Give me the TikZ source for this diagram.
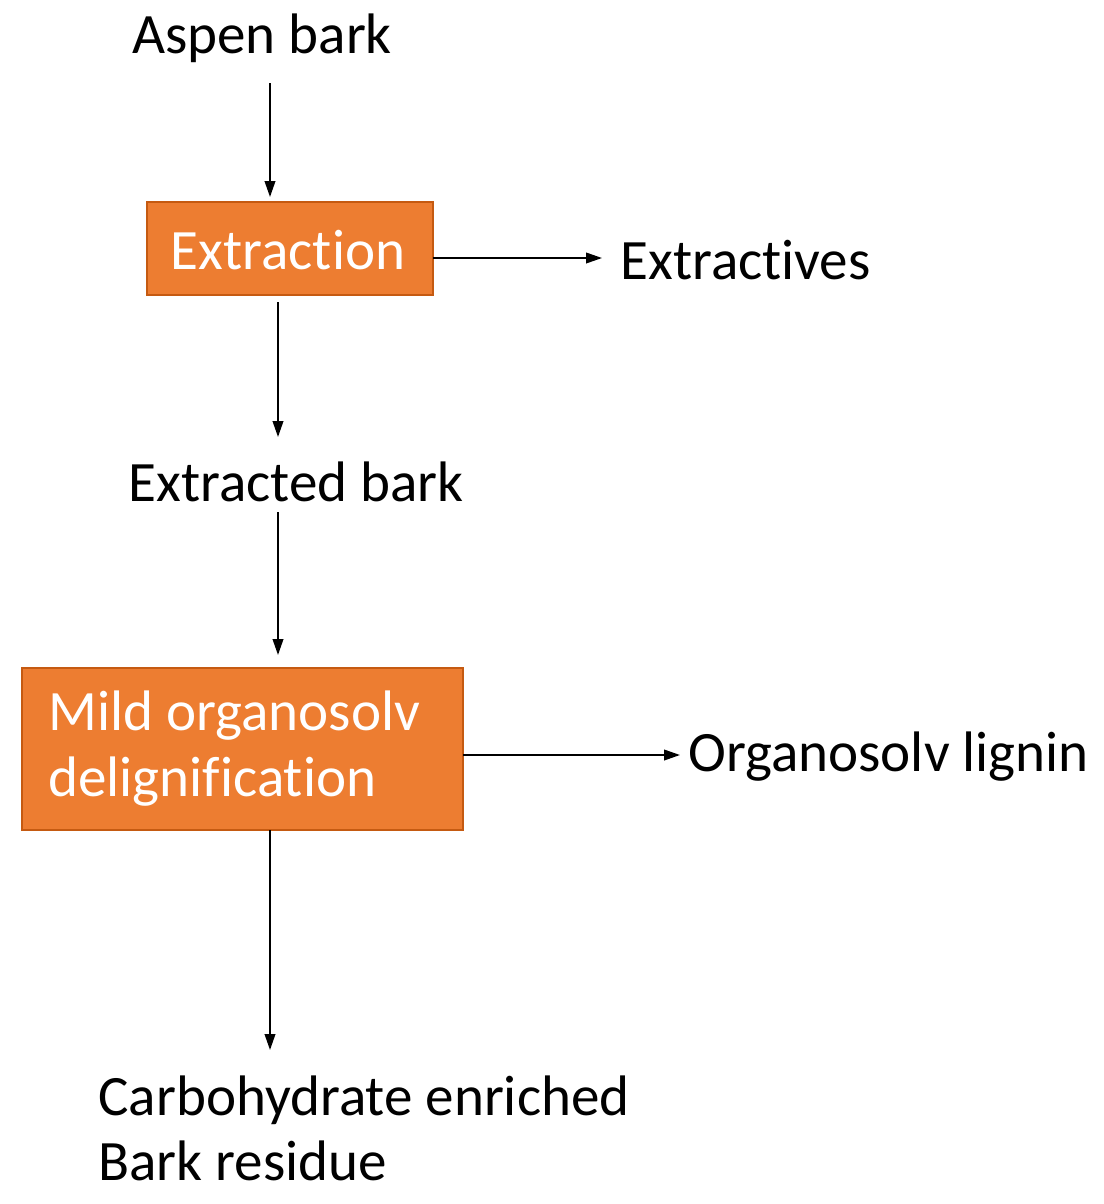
\documentclass[tikz,border=0pt]{standalone}
\usepackage{fontspec}
\setmainfont{Carlito}[RawFeature={-liga;-clig;-dlig}]
\usetikzlibrary{arrows.meta}
\definecolor{org}{HTML}{ED7D31}
\definecolor{orgd}{HTML}{C55A11}
\begin{document}
\begin{tikzpicture}[x=0.02cm,y=-0.02cm,
  txt/.style={font=\fontsize{32.5}{37.5}\selectfont,inner sep=0pt},
  box/.style={draw=orgd,line width=1pt,fill=org,text=white,font=\fontsize{32.5}{37.5}\selectfont},
  arr/.style={-{Triangle[length=9pt,width=6pt]},line width=1pt}]
\useasboundingbox (0,0) rectangle (1104,1204);
\node[txt] (aspen) at (262,38) {Aspen bark};
\node[box,minimum width=286*0.02cm,minimum height=93*0.02cm] (ext) at (290,248.5) {};
\node[txt,text=white] at (288,250) {Extraction};
\node[txt,anchor=west] (extv) at (620,260) {Extractives};
\node[txt] (exb) at (296,482) {Extracted bark};
\node[box,minimum width=441*0.02cm,minimum height=162*0.02cm] (mild) at (242.5,749) {};
\node[txt,text=white,anchor=west,align=left] at (48,749) {Mild organosolv\\delignification};
\node[txt,anchor=west] (lig) at (688,757) {Organosolv lignin};
\node[txt,anchor=north west,align=left] (carb) at (98,1075) {Carbohydrate enriched\\Bark residue};
\coordinate (a1) at (270,83); \coordinate (a2) at (270,197);
\draw[arr] (a1) -- (a2);
\coordinate (b1) at (433,258); \coordinate (b2) at (602,258);
\draw[arr] (b1) -- (b2);
\coordinate (c1) at (278,302); \coordinate (c2) at (278,437);
\draw[arr] (c1) -- (c2);
\coordinate (d1) at (278,512); \coordinate (d2) at (278,655);
\draw[arr] (d1) -- (d2);
\coordinate (e1) at (463,755); \coordinate (e2) at (680,755);
\draw[arr] (e1) -- (e2);
\coordinate (f1) at (270,830); \coordinate (f2) at (270,1050);
\draw[arr] (f1) -- (f2);
\end{tikzpicture}
\end{document}
